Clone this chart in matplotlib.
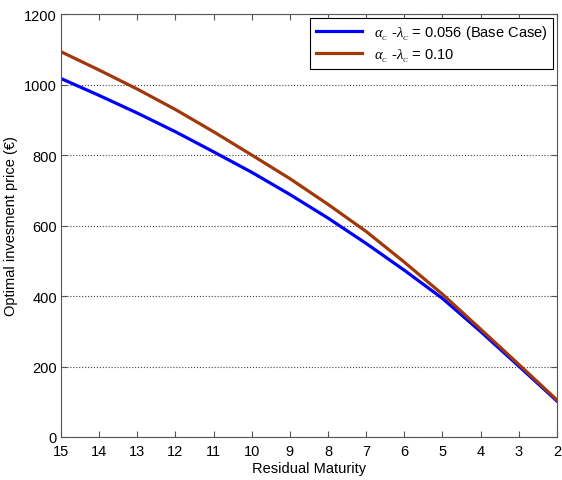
import numpy as np
import matplotlib.pyplot as plt

plt.rcParams['font.family'] = ['Liberation Sans', 'DejaVu Sans']
plt.rcParams['mathtext.fontset'] = 'custom'
plt.rcParams['mathtext.rm'] = 'Liberation Serif'
plt.rcParams['mathtext.it'] = 'Liberation Serif:italic'

maturity = [15, 14, 13, 12, 11, 10, 9, 8, 7, 6, 5, 4, 3, 2]
price_base = [1017, 969, 919, 866, 809, 751, 688, 621, 549, 473, 393, 299, 201, 102]
price_high = [1093, 1041, 987, 929, 866, 800, 733, 660, 583, 496, 405, 306, 206, 105]
labels = [r'$\alpha_{_C}$ -$\lambda_{_C}$ = 0.056 (Base Case)',
          r'$\alpha_{_C}$ -$\lambda_{_C}$ = 0.10']

fig = plt.figure(figsize=(5.62, 4.81), dpi=100)
ax = fig.add_axes([0.1085, 0.0894, 0.8825, 0.8794])

ax.plot(maturity, price_base, color='#0000FF', linewidth=2.3, label=labels[0])
ax.plot(maturity, price_high, color='#A0380A', linewidth=2.3, label=labels[1])

ax.set_xlim(15, 2)
ax.set_ylim(0, 1200)
ax.set_xticks(range(15, 1, -1))
ax.set_yticks(range(0, 1201, 200))
ax.tick_params(axis='both', direction='in', top=True, right=True, labelsize=10.5,
               length=4, color='#555555')
ax.tick_params(axis='x', pad=5)
ax.tick_params(axis='y', pad=3)
for s in ax.spines.values():
    s.set_color('#555555')
ax.yaxis.grid(True, linestyle=':', color='#444444', linewidth=0.8)
ax.set_xlabel('Residual Maturity', fontsize=10.5, labelpad=2)
ax.set_ylabel('Optimal invesment price (€)', fontsize=10.5, labelpad=4)

leg = ax.legend(loc='upper right', fontsize=10.5, fancybox=False, framealpha=1,
                edgecolor='black', handlelength=3.2, borderaxespad=0.3,
                labelspacing=0.3, borderpad=0.35)
leg.get_frame().set_linewidth(0.8)

fig.savefig('out.png', dpi=100)
